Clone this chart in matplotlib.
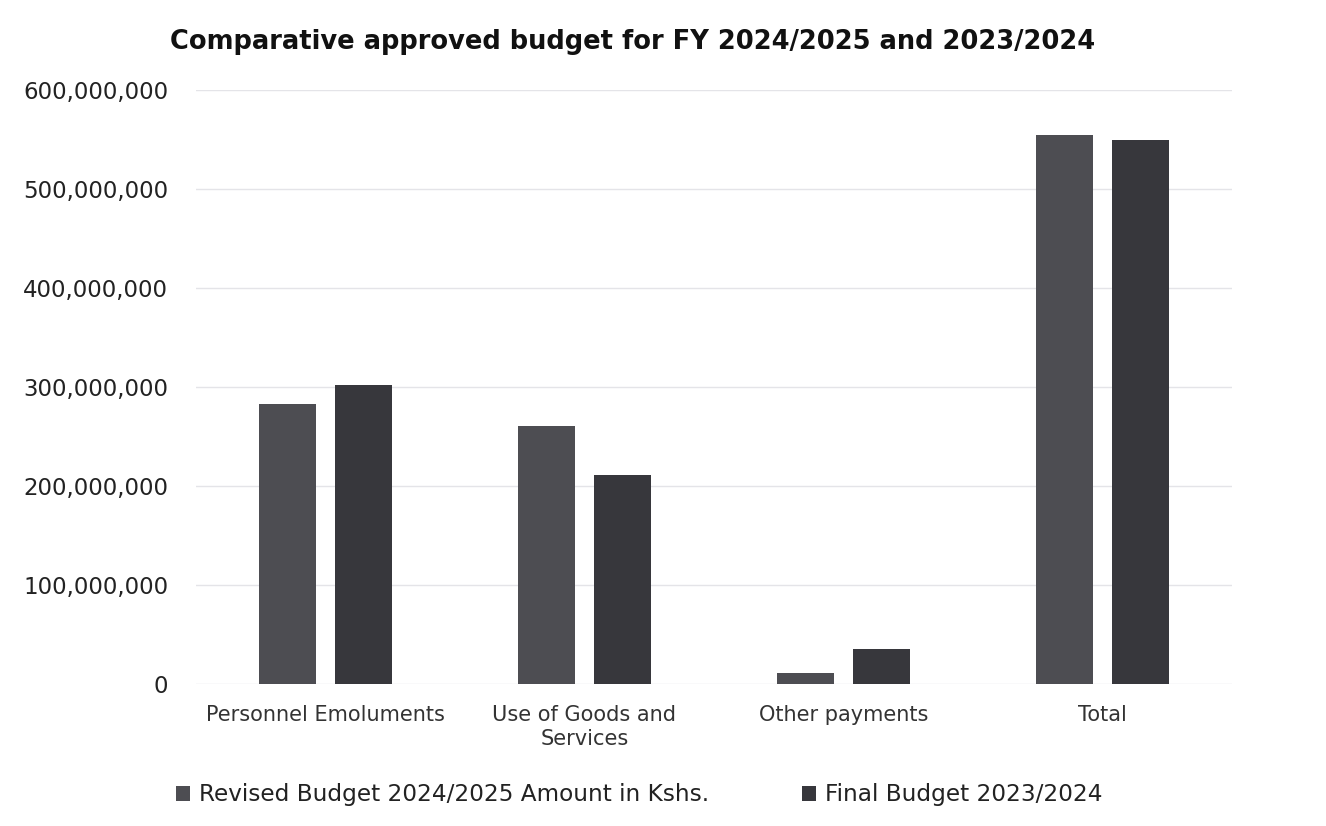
import matplotlib
matplotlib.use("Agg")
import matplotlib.pyplot as plt
import numpy as np
from matplotlib.ticker import FuncFormatter

categories = ["Personnel Emoluments", "Use of Goods and\nServices", "Other payments", "Total"]
revised_2425 = [283_000_000, 261_000_000, 11_000_000, 555_000_000]
final_2324 = [302_000_000, 211_000_000, 35_000_000, 550_000_000]
series_names = ["Revised Budget 2024/2025 Amount in Kshs.", "Final Budget 2023/2024"]
title = "Comparative approved budget for FY 2024/2025 and 2023/2024"

plt.rcParams["font.family"] = ["DejaVu Sans"]

fig = plt.figure(figsize=(13.26, 8.26), dpi=100)
ax = fig.add_axes([196 / 1326, 1 - 684 / 826, (1232 - 196) / 1326, (684 - 90) / 826])

x = np.arange(len(categories))
width = 0.22
offset = 0.145
ax.bar(x - offset, revised_2425, width, color="#4d4d52", label=series_names[0], zorder=3)
ax.bar(x + offset, final_2324, width, color="#37373c", label=series_names[1], zorder=3)

ax.set_ylim(0, 600_000_000)
ax.set_xlim(-0.5, 3.5)
ax.set_yticks(np.arange(0, 600_000_001, 100_000_000))
ax.yaxis.set_major_formatter(FuncFormatter(lambda v, _: f"{int(v):,}"))
ax.grid(axis="y", color="#e4e4e8", linewidth=1, zorder=0)
for s in ax.spines.values():
    s.set_visible(False)
ax.tick_params(axis="both", length=0, colors="#222222")
ax.tick_params(axis="y", pad=20, labelsize=16.5)
ax.tick_params(axis="x", pad=15)
ax.set_xticks(x)
ax.set_xticklabels(categories, fontsize=15, color="#333333", linespacing=1.25)

fig.text(633 / 1326, 1 - 42 / 826, title, ha="center", va="center",
         fontsize=18.5, fontweight="bold", color="#111111")

fig.legend(loc="center", bbox_to_anchor=(0.482, 1 - 795 / 826), ncol=2,
           frameon=False, fontsize=16.7, handlelength=0.6, handleheight=0.6,
           handletextpad=0.4, columnspacing=4.0, labelcolor="#222222")

plt.savefig("out.png", dpi=100)
plt.close()
